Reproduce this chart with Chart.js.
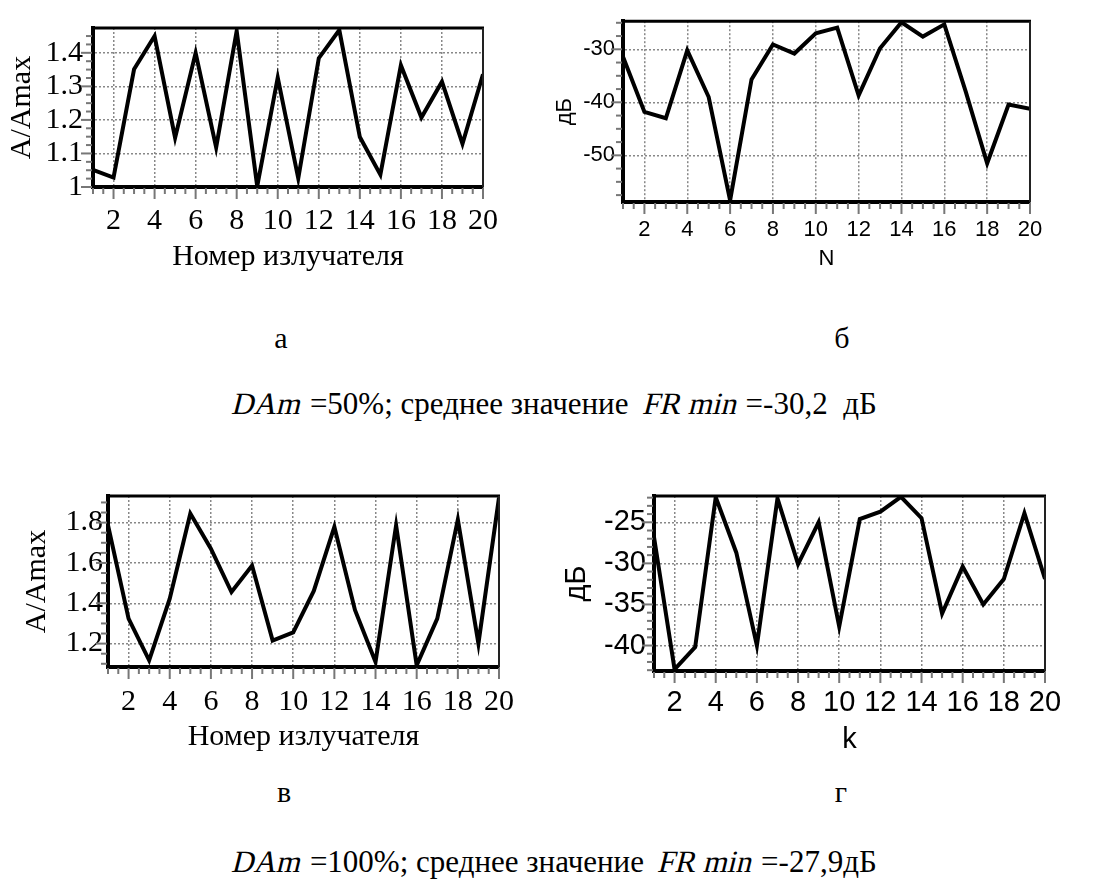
<!DOCTYPE html>
<html lang="ru">
<head>
<meta charset="utf-8">
<title>Амплитуды и уровни</title>
<script src="https://cdn.jsdelivr.net/npm/chart.js@4.4.0/dist/chart.umd.min.js"></script>
<style>
  body { margin: 0; background: #fff; width: 1111px; height: 891px; position: relative; overflow: hidden;
         font-family: 'Liberation Serif', 'Times New Roman', serif; }
  .panel { position: absolute; }
  .cap { position: absolute; font-size: 31px; color: #000; white-space: nowrap; transform: translate(-50%, -50%); }
  .letter { font-size: 30px; }
  .it { display: inline-block; transform: skewX(-14deg); }
</style>
</head>
<body>
<div class="panel" style="left:0;top:0"><canvas id="chartA" width="540" height="290"></canvas></div>
<div class="panel" style="left:540px;top:0"><canvas id="chartB" width="571" height="290"></canvas></div>
<div class="panel" style="left:0;top:470px"><canvas id="chartV" width="540" height="300"></canvas></div>
<div class="panel" style="left:540px;top:470px"><canvas id="chartG" width="571" height="300"></canvas></div>

<div class="cap letter" style="left:281px;top:338px">а</div>
<div class="cap letter" style="left:842px;top:338px">б</div>
<div class="cap" style="left:555px;top:404px"><span class="it">DAm</span> =50%; среднее значение&nbsp; <span class="it">FR min</span> =-30,2&nbsp; дБ</div>
<div class="cap letter" style="left:284px;top:792px">в</div>
<div class="cap letter" style="left:841px;top:792px">г</div>
<div class="cap" style="left:555px;top:862px"><span class="it">DAm</span> =100%; среднее значение&nbsp; <span class="it">FR min</span> =-27,9дБ</div>

<script>
// номера излучателей
const emitters = [1, 2, 3, 4, 5, 6, 7, 8, 9, 10, 11, 12, 13, 14, 15, 16, 17, 18, 19, 20];
const xTicks = [2, 4, 6, 8, 10, 12, 14, 16, 18, 20];

// DAm = 50%
const ampA = [1.051, 1.028, 1.351, 1.45, 1.147, 1.40, 1.118, 1.465, 1.002, 1.326,
              1.026, 1.384, 1.468, 1.149, 1.037, 1.363, 1.207, 1.314, 1.129, 1.336];
const levelB = [-31.4, -41.8, -43.0, -30.2, -39.0, -58.5, -35.7, -29.1, -30.8, -27.0,
                -25.9, -38.7, -29.8, -24.9, -27.6, -25.3, -38.0, -51.5, -40.4, -41.2];

// DAm = 100%
const ampV = [1.787, 1.324, 1.117, 1.423, 1.845, 1.671, 1.456, 1.587, 1.215, 1.256,
              1.461, 1.779, 1.367, 1.109, 1.787, 1.092, 1.324, 1.815, 1.2, 1.924];
const levelG = [-26.8, -42.9, -40.2, -21.95, -28.7, -40.0, -22.1, -30.1, -25.0, -37.7,
                -24.6, -23.7, -21.9, -24.5, -36.1, -30.4, -35.0, -31.9, -23.9, -31.9];

// подписанные деления по оси Y
const yTicksA = [1, 1.1, 1.2, 1.3, 1.4];
const yTicksB = [-30, -40, -50];
const yTicksV = [1.2, 1.4, 1.6, 1.8];
const yTicksG = [-25, -30, -35, -40];

Chart.defaults.color = '#000';

const findTick = (list, v) => list.find(t => Math.abs(t - v) < 1e-6);

// короткие/длинные засечки и рамка сверху и справа
const frameAndTicks = {
  id: 'frameAndTicks',
  afterDraw(chart) {
    const { ctx, chartArea: a, scales } = chart;
    ctx.save();
    ctx.strokeStyle = '#777';
    ctx.lineWidth = 2;
    scales.x.ticks.forEach(t => {
      const px = scales.x.getPixelForValue(t.value);
      const len = t.label ? 10 : 5;
      ctx.beginPath(); ctx.moveTo(px, a.bottom + 1); ctx.lineTo(px, a.bottom + 2 + len); ctx.stroke();
    });
    scales.y.ticks.forEach(t => {
      const py = scales.y.getPixelForValue(t.value);
      const len = t.label ? 10 : 5;
      ctx.beginPath(); ctx.moveTo(a.left - 2 - len, py); ctx.lineTo(a.left - 1, py); ctx.stroke();
    });
    ctx.strokeStyle = '#000';
    ctx.lineWidth = 3;
    ctx.beginPath(); ctx.moveTo(a.left, a.top); ctx.lineTo(a.right + 1, a.top); ctx.stroke();
    ctx.strokeStyle = '#222';
    ctx.lineWidth = 2;
    ctx.beginPath(); ctx.moveTo(a.right, a.top); ctx.lineTo(a.right, a.bottom); ctx.stroke();
    ctx.restore();
  }
};

function makeChart(id, values, o) {
  const font = { family: o.family, size: o.size };
  new Chart(document.getElementById(id), {
    type: 'line',
    data: {
      datasets: [{
        data: emitters.map((n, i) => ({ x: n, y: values[i] })),
        borderColor: '#000',
        borderWidth: 4,
        pointRadius: 0,
        tension: 0,
        fill: false
      }]
    },
    options: {
      responsive: false,
      animation: false,
      layout: { padding: { top: o.padTop, right: o.padRight, left: 0, bottom: 0 } },
      plugins: { legend: { display: false }, tooltip: { enabled: false } },
      scales: {
        x: {
          type: 'linear',
          min: 1, max: 20,
          afterFit: s => { s.height = o.xHeight; },
          ticks: {
            stepSize: 0.5, autoSkip: false, maxRotation: 0, font,
            padding: o.xLabelPad,
            callback: v => { const t = findTick(xTicks, v); return t === undefined ? '' : String(t); }
          },
          grid: {
            drawTicks: false, lineWidth: 1.5,
            color: c => (c.tick && findTick(xTicks, c.tick.value) !== undefined) ? '#888' : 'rgba(0,0,0,0)'
          },
          border: { color: '#000', width: 4, dash: [2, 2] },
          title: { display: true, text: o.xTitle, font, padding: o.xTitlePad }
        },
        y: {
          min: o.yMin, max: o.yMax,
          afterFit: s => { s.width = o.yWidth; },
          ticks: {
            stepSize: o.yStep, autoSkip: false, includeBounds: false, font,
            padding: o.yLabelPad,
            callback: v => { const t = findTick(o.yTicks, v); return t === undefined ? '' : String(t); }
          },
          grid: {
            drawTicks: false, lineWidth: 1.5,
            color: c => (c.tick && findTick(o.yTicks, c.tick.value) !== undefined) ? '#888' : 'rgba(0,0,0,0)'
          },
          border: { color: '#000', width: 4, dash: [2, 2] },
          title: { display: true, text: o.yTitle, font, padding: o.yTitlePad }
        }
      }
    },
    plugins: [frameAndTicks]
  });
}

const serif = "'Liberation Serif', 'Times New Roman', serif";
const sans = "'Liberation Sans', Arial, sans-serif";

makeChart('chartA', ampA, {
  family: serif, size: 30, xTitle: 'Номер излучателя', yTitle: 'A/Amax',
  yMin: 1, yMax: 1.474, yStep: 0.025, yTicks: yTicksA,
  padTop: 15, padRight: 57, yWidth: 93, xHeight: 103,
  yLabelPad: 10, yTitlePad: 4, xLabelPad: 16, xTitlePad: 15
});

makeChart('chartB', levelB, {
  family: sans, size: 22, xTitle: 'N', yTitle: 'дБ',
  yMin: -58.8, yMax: -24.7, yStep: 2.5, yTicks: yTicksB,
  padTop: 15, padRight: 81, yWidth: 83, xHeight: 88,
  yLabelPad: 8, yTitlePad: 12, xLabelPad: 15, xTitlePad: 18
});

makeChart('chartV', ampV, {
  family: serif, size: 30, xTitle: 'Номер излучателя', yTitle: 'A/Amax',
  yMin: 1.084, yMax: 1.932, yStep: 0.05, yTicks: yTicksV,
  padTop: 26, padRight: 41, yWidth: 108, xHeight: 103,
  yLabelPad: 5, yTitlePad: 19, xLabelPad: 17, xTitlePad: 15
});

makeChart('chartG', levelG, {
  family: sans, size: 29, xTitle: 'k', yTitle: 'дБ',
  yMin: -43.1, yMax: -21.8, yStep: 1, yTicks: yTicksG,
  padTop: 26, padRight: 66, yWidth: 114, xHeight: 99,
  yLabelPad: 8, yTitlePad: 20, xLabelPad: 15, xTitlePad: 13
});
</script>
</body>
</html>
